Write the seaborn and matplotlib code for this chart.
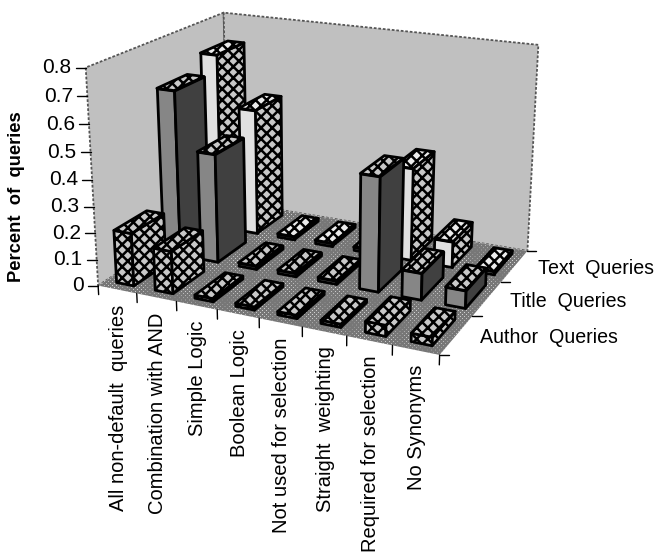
import numpy as np
import matplotlib
matplotlib.use("Agg")
import matplotlib.pyplot as plt
import seaborn as sns
from mpl_toolkits.mplot3d.art3d import Poly3DCollection
from mpl_toolkits.mplot3d import proj3d

categories = ["All non-default  queries", "Combination with AND", "Simple Logic", "Boolean Logic",
              "Not used for selection", "Straight  weighting", "Required for selection", "No Synonyms"]
series = ["Author  Queries", "Title  Queries", "Text  Queries"]
author = [0.20, 0.16, 0.012, 0.012, 0.012, 0.012, 0.04, 0.03]
title = [0.64, 0.42, 0.012, 0.012, 0.012, 0.43, 0.10, 0.065]
text = [0.70, 0.50, 0.012, 0.012, 0.012, 0.36, 0.10, 0.012]
values = [author, title, text]
z_ticks = [0, 0.1, 0.2, 0.3, 0.4, 0.5, 0.6, 0.7, 0.8]
z_labels = ["0", "0.1", "0.2", "0.3", "0.4", "0.5", "0.6", "0.7", "0.8"]

sns.set_theme(style="white")
plt.rcParams["font.family"] = ["Liberation Sans", "DejaVu Sans"]
plt.rcParams["hatch.color"] = "black"

fig = plt.figure(figsize=(6.54, 5.55), dpi=100)
ax = fig.add_axes([-0.023, 0.190, 1, 1], projection="3d")
ax.computed_zorder = False
ELEV, AZIM = 18.6, -65
BOX = (376, 280, 233)
ax.view_init(elev=ELEV, azim=AZIM)
ax.set_proj_type("persp", focal_length=0.45)
ax.set_box_aspect(BOX, zoom=0.878)
ax.set_xlim(0, len(categories))
ax.set_ylim(0, len(series))
ax.set_zlim(0, 0.8)
ax.set_axis_off()
nx, ny, zmax = len(categories), len(series), 0.8

th = np.radians(-AZIM)
rx, ry = np.sin(th) * nx / BOX[0], np.cos(th) * ny / BOX[1]
order = [0]


def face(verts, fc, hatch=None, ec="black", lw=2.0, hlw=1.3, ls="-"):
    order[0] += 1
    plt.rcParams["hatch.linewidth"] = hlw
    p = Poly3DCollection([verts], facecolors=fc, edgecolors=ec, linewidths=lw,
                         zorder=order[0], hatch=hatch, linestyles=ls)
    ax.add_collection3d(p)


def screen_text(x, y, z, s, dx=0, dy=0, **kw):
    xp, yp, _ = proj3d.proj_transform(x, y, z, ax.get_proj())
    ax.annotate(s, (xp, yp), xycoords="data", xytext=(dx * 0.72, -dy * 0.72), textcoords="offset points",
                color="black", zorder=order[0] + 1, annotation_clip=False, **kw)


wall = "#c0c0c0"
wall_ls = (0, (1.5, 1))
face([(0, 0, 0), (0, ny, 0), (0, ny, zmax), (0, 0, zmax)], wall, ec="#555555", lw=1.3, ls=wall_ls)
face([(0, ny, 0), (nx, ny, 0), (nx, ny, zmax), (0, ny, zmax)], wall, ec="#555555", lw=1.3, ls=wall_ls)
face([(0, 0, 0), (nx, 0, 0), (nx, ny, 0), (0, ny, 0)], "white", hatch="xxxxxxxx", ec="#777777", lw=0.0, hlw=1.5)

TEX = "xxx"
TEXC = "#c8c8c8"
styles = {
    0: dict(front=(TEXC, TEX), right=(TEXC, TEX), top=(TEXC, TEX)),
    1: dict(front=("#868686", None), right=("#404040", None), top=(TEXC, TEX)),
    2: dict(front=("#e0e0e0", None), right=(TEXC, TEX), top=("#ececec", TEX)),
}
W, D = 0.45, 0.68
for r in [2, 1, 0]:
    st = styles[r]
    for c, h in enumerate(values[r]):
        x0, x1 = c + 0.5 - W / 2, c + 0.5 + W / 2
        y0, y1 = r + 0.5 - D / 2, r + 0.5 + D / 2
        face([(x0, y0, 0), (x1, y0, 0), (x1, y0, h), (x0, y0, h)], *st["front"], hlw=1.8)
        face([(x1, y0, 0), (x1, y1, 0), (x1, y1, h), (x1, y0, h)], *st["right"], hlw=1.8)
        face([(x0, y0, h), (x1, y0, h), (x1, y1, h), (x0, y1, h)], *st["top"], hlw=1.8)

z_top = order[0] + 1
tk = dict(color="black", lw=1.0, zorder=z_top)
FS = 15
for z, lab in zip(z_ticks, z_labels):
    ax.plot([0, -10 * rx], [0, -10 * ry], [z, z], **tk)
    screen_text(0, 0, z, lab, dx=-14, ha="right", va="center", fontsize=FS)
for i in range(nx + 1):
    ax.plot([i, i], [0, 0], [0, -0.035], **tk)
for i, lab in enumerate(categories):
    screen_text(i + 0.5, 0, 0, lab, dx=1, dy=15, rotation=90, ha="center", va="top", fontsize=14.5)
for j in range(ny + 1):
    ax.plot([nx, nx + 9 * rx], [j, j + 9 * ry], [0, 0], **tk)
for j, lab in enumerate(series):
    screen_text(nx, j + 0.5, 0, lab, dx=23, dy=3, ha="left", va="center", fontsize=14.1)
fig.text(17 / 654, 1 - 197 / 555, "Percent  of  queries", rotation=90, ha="center", va="center",
         fontsize=13.2, fontweight="bold", color="black")
fig.savefig("out.png", dpi=100)
